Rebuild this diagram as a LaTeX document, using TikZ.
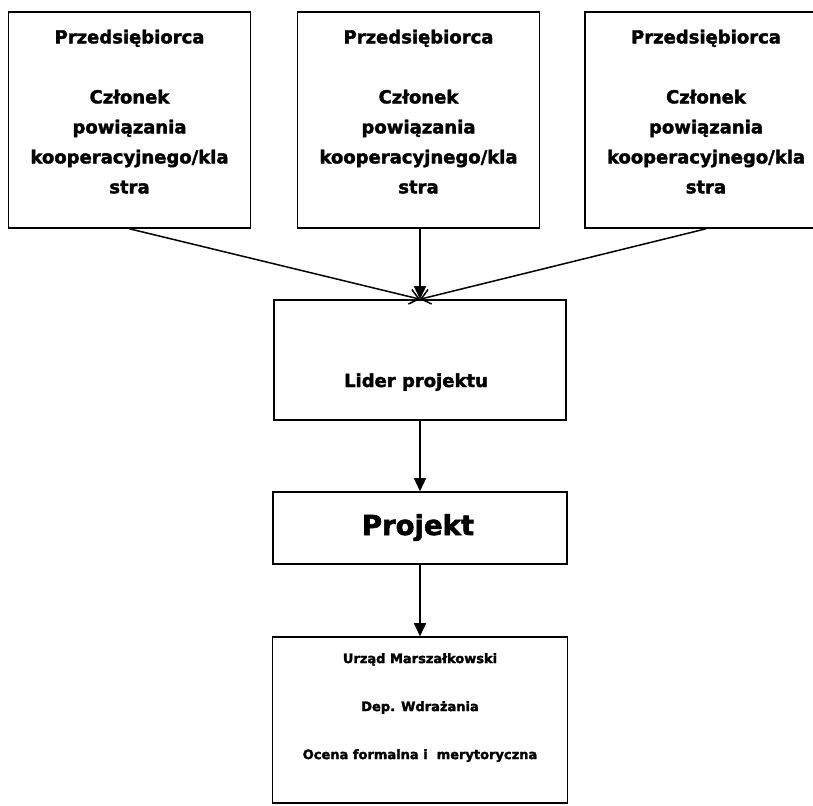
\documentclass[tikz,border=0pt]{standalone}
\usepackage{fontspec}
\setmainfont{DejaVu Sans}[BoldFeatures={FakeBold=2}]
\usetikzlibrary{arrows.meta,positioning}

\begin{document}
\begin{tikzpicture}[x=1pt,y=-1pt,
  ramka/.style={draw, line width=1.6pt, inner sep=0pt},
  napis/.style={align=center, inner sep=0pt},
  grot/.style={-{Triangle[length=13pt,width=12pt]}, line width=1.5pt},
  skos/.style={-{Straight Barb[length=9pt,width=15pt]}, line width=1.5pt}]
  \useasboundingbox (0,0) rectangle (813,805);
  % przedsiebiorcy
  \foreach \n/\x in {1/129.5, 2/418.5, 3/706} {
    \node[ramka, minimum width=242pt, minimum height=216pt] (p\n) at (\x,120) {};
    \node[napis, anchor=north, font=\fontsize{18}{30}\selectfont\bfseries] (t\n) at (\x,29.5)
      {Przedsiębiorca\\[30pt]Członek\\powiązania\\kooperacyjnego/kla\\stra};
  }
  \node[ramka, minimum width=292pt, minimum height=120pt] (lider) at (420,360) {};
  \node[napis, anchor=base, font=\fontsize{18}{22}\selectfont\bfseries] (tl) at (416,387) {Lider projektu};
  \node[ramka, minimum width=294pt, minimum height=72pt] (projekt) at (420,528) {};
  \node[napis, anchor=base, font=\fontsize{27.5}{32}\selectfont\bfseries] (tp) at (418,535) {Projekt};
  \node[ramka, minimum width=295pt, minimum height=166pt] (urzad) at (420,720) {};
  \node[napis, anchor=north, font=\fontsize{13}{48}\selectfont\bfseries] (tu) at (420,653)
    {Urząd Marszałkowski\\Dep. Wdrażania\\Ocena formalna i\ \ merytoryczna};
  % strzalki
  \draw[skos] (p1.south) -- (lider.north);
  \draw[skos] (p3.south) -- (lider.north);
  \draw[grot] (lider.north |- p2.south) -- (lider.north);
  \draw[grot] (lider.south) -- (projekt.north);
  \draw[grot] (projekt.south) -- (urzad.north);
\end{tikzpicture}
\end{document}
